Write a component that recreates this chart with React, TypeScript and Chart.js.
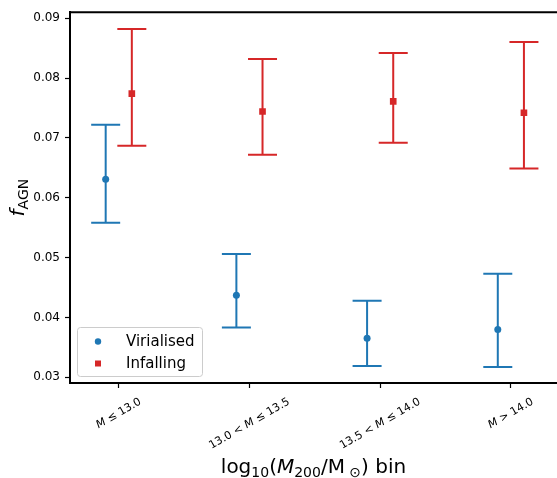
import React, { useEffect, useRef } from "react";
import { Chart, registerables } from "chart.js";

Chart.register(...registerables);

const categories = ["M ≤ 13.0", "13.0 < M ≤ 13.5", "13.5 < M ≤ 14.0", "M > 14.0"];
const virialised = [0.0631, 0.0437, 0.0365, 0.038];
const virialisedLo = [0.0558, 0.0383, 0.0319, 0.0317];
const virialisedHi = [0.0722, 0.0506, 0.0428, 0.0473];
const infalling = [0.0774, 0.0744, 0.0761, 0.0742];
const infallingLo = [0.0687, 0.0672, 0.0692, 0.0649];
const infallingHi = [0.0882, 0.0832, 0.0842, 0.086];
const yTicks = [0.03, 0.04, 0.05, 0.06, 0.07, 0.08, 0.09];
const xOffset = 0.1;

const BLUE = "#1f77b4";
const RED = "#d62728";
const FONT = "'DejaVu Sans', sans-serif";

type Seg = { text: string; size: number; italic?: boolean; dy?: number };

function segWidth(ctx: CanvasRenderingContext2D, segs: Seg[]) {
  let w = 0;
  for (const s of segs) {
    ctx.font = `${s.italic ? "italic " : ""}${s.size}px ${FONT}`;
    w += ctx.measureText(s.text).width;
  }
  return w;
}

function drawSegs(ctx: CanvasRenderingContext2D, segs: Seg[], x: number, y: number) {
  let cx = x;
  for (const s of segs) {
    ctx.font = `${s.italic ? "italic " : ""}${s.size}px ${FONT}`;
    ctx.fillText(s.text, cx, y + (s.dy || 0));
    cx += ctx.measureText(s.text).width;
  }
}

function labelSegs(label: string, size: number): Seg[] {
  const parts = label.split("M");
  const segs: Seg[] = [];
  parts.forEach((p, i) => {
    if (p) segs.push({ text: p, size });
    if (i < parts.length - 1) segs.push({ text: "M", size, italic: true });
  });
  return segs;
}

const series = [
  { lo: virialisedLo, hi: virialisedHi, center: virialised, color: BLUE, off: -xOffset },
  { lo: infallingLo, hi: infallingHi, center: infalling, color: RED, off: xOffset },
];

const errorBarPlugin = {
  id: "errorbars",
  beforeDatasetsDraw(chart: any) {
    const ctx = chart.ctx as CanvasRenderingContext2D;
    const xs = chart.scales.x;
    const ys = chart.scales.y;
    const cap = 14.5;
    ctx.save();
    ctx.lineWidth = 2;
    for (const s of series) {
      ctx.strokeStyle = s.color;
      s.center.forEach((_, i) => {
        const px = xs.getPixelForValue(i + s.off);
        const pLo = ys.getPixelForValue(s.lo[i]);
        const pHi = ys.getPixelForValue(s.hi[i]);
        ctx.beginPath();
        ctx.moveTo(px, pLo);
        ctx.lineTo(px, pHi);
        ctx.moveTo(px - cap, pLo);
        ctx.lineTo(px + cap, pLo);
        ctx.moveTo(px - cap, pHi);
        ctx.lineTo(px + cap, pHi);
        ctx.stroke();
      });
    }
    ctx.restore();
  },
  afterDraw(chart: any) {
    const ctx = chart.ctx as CanvasRenderingContext2D;
    const area = chart.chartArea;
    const xs = chart.scales.x;
    ctx.save();
    // top spine
    ctx.strokeStyle = "#000";
    ctx.lineWidth = 2;
    ctx.beginPath();
    ctx.moveTo(area.left - 1, area.top);
    ctx.lineTo(area.right, area.top);
    ctx.stroke();

    ctx.fillStyle = "#000";
    ctx.textBaseline = "middle";
    // x tick labels rotated 30deg, centered
    const tsize = 11;
    const ang = Math.PI / 6;
    categories.forEach((c, i) => {
      const segs = labelSegs(c, tsize);
      const L = segWidth(ctx, segs);
      const h = tsize * 1.05;
      const bh = L * Math.sin(ang) + h * Math.cos(ang);
      const top = area.bottom + 13;
      const px = xs.getPixelForValue(i);
      ctx.save();
      ctx.translate(px, top + bh / 2);
      ctx.rotate(-ang);
      drawSegs(ctx, segs, -L / 2, 0);
      ctx.restore();
    });

    ctx.textBaseline = "alphabetic";
    // x title
    const big = 20;
    const sub = 14;
    const xt: Seg[] = [
      { text: "log", size: big },
      { text: "10", size: sub, dy: 3.5 },
      { text: "(", size: big },
      { text: "M", size: big, italic: true },
      { text: "200", size: sub, dy: 3.5 },
      { text: "/M", size: big },
      { text: " ⊙", size: sub, dy: 3.5 },
      { text: ") bin", size: big },
    ];
    const xw = segWidth(ctx, xt);
    drawSegs(ctx, xt, (area.left + area.right) / 2 - xw / 2, 473);

    // y title
    const yt: Seg[] = [
      { text: "f", size: big, italic: true },
      { text: "AGN", size: sub, dy: 4 },
    ];
    const yw = segWidth(ctx, yt);
    ctx.save();
    ctx.translate(24, (area.top + area.bottom) / 2);
    ctx.rotate(-Math.PI / 2);
    drawSegs(ctx, yt, -yw / 2, 0);
    ctx.restore();

    // legend
    const lx = 77.5, ly = 327.5, lw = 125, lh = 49, r = 3;
    ctx.beginPath();
    ctx.moveTo(lx + r, ly);
    ctx.lineTo(lx + lw - r, ly);
    ctx.arcTo(lx + lw, ly, lx + lw, ly + r, r);
    ctx.lineTo(lx + lw, ly + lh - r);
    ctx.arcTo(lx + lw, ly + lh, lx + lw - r, ly + lh, r);
    ctx.lineTo(lx + r, ly + lh);
    ctx.arcTo(lx, ly + lh, lx, ly + lh - r, r);
    ctx.lineTo(lx, ly + r);
    ctx.arcTo(lx, ly, lx + r, ly, r);
    ctx.closePath();
    ctx.fillStyle = "rgba(255,255,255,0.8)";
    ctx.fill();
    ctx.strokeStyle = "#cccccc";
    ctx.lineWidth = 1;
    ctx.stroke();

    ctx.fillStyle = BLUE;
    ctx.beginPath();
    ctx.arc(98, 341.5, 3.2, 0, Math.PI * 2);
    ctx.fill();
    ctx.fillStyle = RED;
    ctx.fillRect(95, 360.5, 6, 6);

    ctx.fillStyle = "#000";
    ctx.font = `15px ${FONT}`;
    ctx.fillText("Virialised", 126, 345.5);
    ctx.fillText("Infalling", 126, 368);
    ctx.restore();
  },
};

export default function App() {
  const ref = useRef<HTMLCanvasElement | null>(null);
  useEffect(() => {
    document.body.style.margin = "0";
    const canvas = ref.current;
    if (!canvas) return;
    const chart = new Chart(canvas, {
      type: "scatter",
      data: {
        datasets: [
          {
            label: "Virialised",
            data: virialised.map((v, i) => ({ x: i - xOffset, y: v })),
            pointStyle: "circle",
            pointRadius: 3.5,
            backgroundColor: BLUE,
            borderColor: BLUE,
            borderWidth: 0,
          },
          {
            label: "Infalling",
            data: infalling.map((v, i) => ({ x: i + xOffset, y: v })),
            pointStyle: "rect",
            pointRadius: 4.7,
            backgroundColor: RED,
            borderColor: RED,
            borderWidth: 0,
          },
        ],
      },
      options: {
        responsive: false,
        animation: false,
        devicePixelRatio: 1,
        layout: { autoPadding: false, padding: { left: 0, right: 0, top: 10, bottom: 0 } },
        plugins: { legend: { display: false }, tooltip: { enabled: false } },
        scales: {
          x: {
            type: "linear",
            min: -0.373,
            max: 3.353,
            afterBuildTicks: (s: any) => {
              s.ticks = categories.map((_, i) => ({ value: i }));
            },
            afterFit: (s: any) => {
              s.height = 95;
              s.paddingLeft = 0;
              s.paddingRight = 0;
            },
            ticks: { display: false },
            grid: {
              display: true,
              drawOnChartArea: false,
              drawTicks: true,
              tickLength: 5,
              tickColor: "#000",
              tickWidth: 1.2,
            },
            border: { display: true, color: "#000", width: 2 },
          },
          y: {
            type: "linear",
            min: 0.02904,
            max: 0.091,
            afterBuildTicks: (s: any) => {
              s.ticks = yTicks.map((v) => ({ value: v }));
            },
            afterFit: (s: any) => {
              s.width = 70;
            },
            ticks: {
              color: "#000",
              font: { family: FONT, size: 12 },
              padding: 5,
              callback: (v: any) => Number(v).toFixed(2),
            },
            grid: {
              display: true,
              drawOnChartArea: false,
              drawTicks: true,
              tickLength: 5,
              tickColor: "#000",
              tickWidth: 1.2,
            },
            border: { display: true, color: "#000", width: 2 },
          },
        },
      },
      plugins: [errorBarPlugin],
    });
    return () => chart.destroy();
  }, []);
  return (
    <div style={{ position: "absolute", left: 0, top: 0 }}>
      <canvas ref={ref} width={557} height={478} />
    </div>
  );
}
